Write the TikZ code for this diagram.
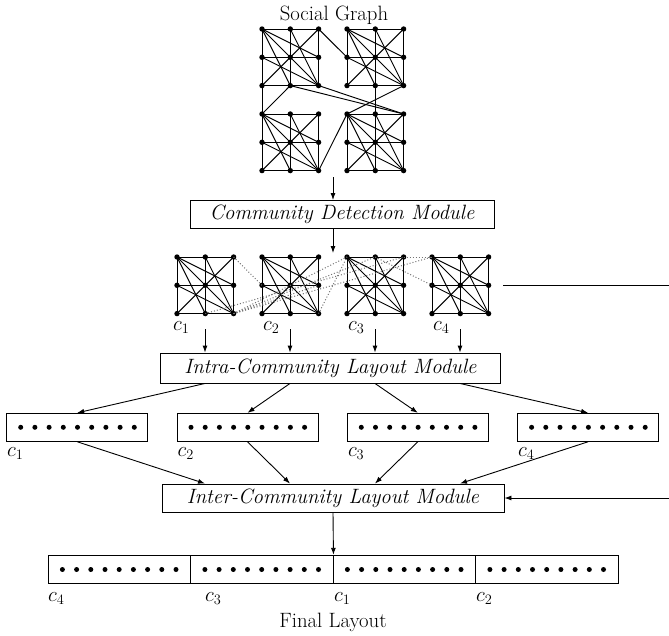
\documentclass[tikz,border=0pt]{standalone}
\usepackage{fontspec}
\usetikzlibrary{arrows.meta}
\newcommand{\cgraph}[3]{%
  \foreach \i in {0,1,2}{\foreach \j in {0,1,2}{%
    \node[gdot] (#1\i\j) at ({#2+28.3*\i},{#3+28.3*\j}) {};}}%
  \foreach \a/\b in {00/10,10/20,01/11,11/21,02/12,12/22,00/01,01/02,10/11,11/12,20/21,21/22,00/22,00/21,00/12,10/22,20/02,01/22}{%
    \draw[gedge] (#1\a.center) -- (#1\b.center);}%
}
\newcommand{\dotrow}[3]{% left x, y, count
  \foreach \k in {0,...,#3}{\fill ({#1+14.2*\k},#2) circle (2.5pt);}%
}
\begin{document}
\begin{tikzpicture}[x=1pt,y=-1pt,
  every node/.style={font=\huge},
  gdot/.style={circle,fill=black,inner sep=0pt,minimum size=5.4pt},
  gedge/.style={line width=0.95pt},
  iedge/.style={line width=1pt,black!55,dotted},
  modbox/.style={draw,line width=0.9pt,minimum height=28pt,inner sep=0pt,font=\huge\itshape},
  lbox/.style={draw,line width=0.9pt,minimum width=141pt,minimum height=28pt,inner sep=0pt},
  fbox/.style={draw,line width=0.9pt,minimum width=142.5pt,minimum height=28.5pt,inner sep=0pt},
  arr/.style={line width=0.9pt,-{Latex[length=7pt,width=5pt]}},
  conn/.style={line width=0.9pt},
  lab/.style={anchor=north west,inner sep=0pt}
]
\useasboundingbox (0,0) rectangle (669,635);

% ---------- Social graph ----------
\node[anchor=base] (sgtitle) at (334,20) {Social Graph};
\cgraph{sA}{262}{29}
\cgraph{sB}{347}{29}
\cgraph{sC}{262}{114}
\cgraph{sD}{347}{114}
\foreach \a/\b in {sA20/sB01,sA02/sC00,sA12/sC00,sC22/sD00,sB22/sD00,sB12/sD10,sA22/sD20,sA12/sD20}{%
  \draw[gedge] (\a.center) -- (\b.center);}
\coordinate (sgout) at (333,177);

% ---------- Community detection ----------
\node[modbox,minimum width=304pt] (CD) at (342,214.5) {Community Detection Module};
\draw[arr] (sgout) -- (CD.north -| sgout);
\coordinate (commtop) at (333,253);
\draw[arr] (CD.south -| commtop) -- (commtop);

% ---------- Communities ----------
\cgraph{ca}{177}{257}
\cgraph{cb}{262}{257}
\cgraph{cc}{347}{257}
\cgraph{cd}{432}{257}
\foreach \a/\b in {ca20/cb01,ca22/cb21,ca22/cc00,ca22/cc10,ca22/cd00,ca12/cc20,cb22/cc00,cc20/cd00,cc10/cd01}{%
  \draw[iedge] (\a.center) -- (\b.center);}
\node[lab] (ka) at (173,321) {$c_1$};
\node[lab] (kb) at (263,321) {$c_2$};
\node[lab] (kc) at (348,321) {$c_3$};
\node[lab] (kd) at (433,321) {$c_4$};
\coordinate (c4out) at (503,285);
\coordinate (rightA) at (669,285);
\draw[conn] (c4out) -- (rightA);

% ---------- Intra ----------
\node[modbox,minimum width=340pt,minimum height=30pt] (Intra) at (330.5,368) {Intra-Community Layout Module};
\coordinate (oa) at (205,329);
\coordinate (ob) at (290,329);
\coordinate (oc) at (375,329);
\coordinate (od) at (460,329);
\foreach \o in {oa,ob,oc,od}{\draw[arr] (\o) -- (Intra.north -| \o);}

% ---------- Layout boxes ----------
\node[lbox] (La) at (77.2,427.3) {};
\node[lbox] (Lb) at (247.5,427.3) {};
\node[lbox] (Lc) at (417.8,427.3) {};
\node[lbox] (Ld) at (588.1,427.3) {};
\dotrow{20.7}{427.3}{8}
\dotrow{191}{427.3}{8}
\dotrow{361.3}{427.3}{8}
\dotrow{531.6}{427.3}{8}
\node[lab] (la) at (7,447) {$c_1$};
\node[lab] (lb) at (177.5,447) {$c_2$};
\node[lab] (lc) at (347.8,447) {$c_3$};
\node[lab] (ld) at (518,447) {$c_4$};
\draw[arr] (Intra.south -| oa) -- (La.north);
\draw[arr] (Intra.south -| ob) -- (Lb.north);
\draw[arr] (Intra.south -| oc) -- (Lc.north);
\draw[arr] (Intra.south -| od) -- (Ld.north);

% ---------- Inter ----------
\node[modbox,minimum width=342pt] (Inter) at (333,498) {Inter-Community Layout Module};
\draw[arr] (La.south) -- (Inter.north -| oa);
\draw[arr] (Lb.south) -- (Inter.north -| ob);
\draw[arr] (Lc.south) -- (Inter.north -| oc);
\draw[arr] (Ld.south) -- (Inter.north -| od);
\coordinate (rightB) at (669,498);
\draw[arr] (rightB) -- (Inter.east);

% ---------- Final layout ----------
\node[fbox] (Fa) at (119.25,569.5) {};
\node[fbox] (Fb) at (261.75,569.5) {};
\node[fbox] (Fc) at (404.25,569.5) {};
\node[fbox] (Fd) at (546.75,569.5) {};
\dotrow{62.4}{569.5}{8}
\dotrow{204.9}{569.5}{8}
\dotrow{347.4}{569.5}{8}
\dotrow{489.9}{569.5}{8}
\draw[arr] (Inter.south) -- (Fb.north east);
\node[lab] (fa) at (48,592) {$c_4$};
\node[lab] (fb) at (205,592) {$c_3$};
\node[lab] (fc) at (334,592) {$c_1$};
\node[lab] (fd) at (476,592) {$c_2$};
\node[anchor=base] (final) at (333,627) {Final Layout};
\end{tikzpicture}
\end{document}
